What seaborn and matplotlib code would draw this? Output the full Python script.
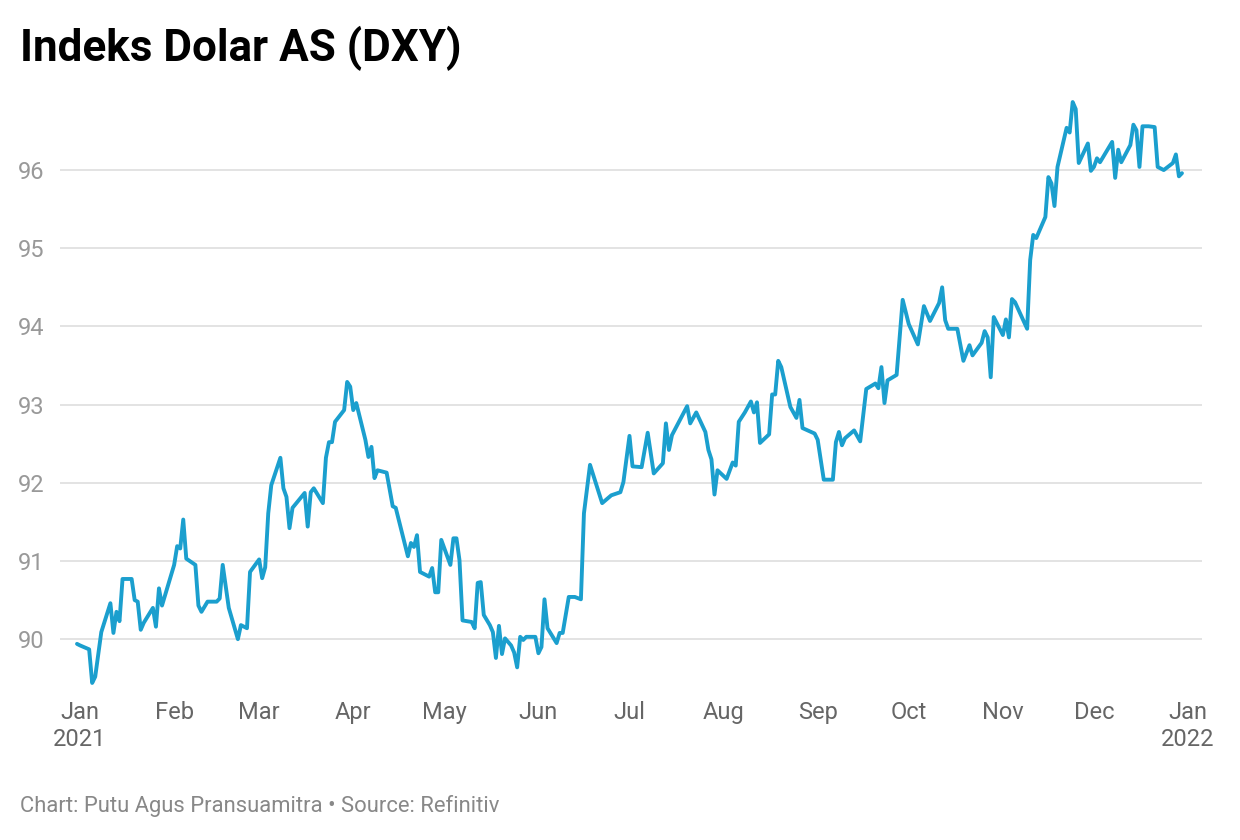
import pandas as pd
import numpy as np
import matplotlib.pyplot as plt
import matplotlib.dates as mdates
import seaborn as sns

# days counted from 2021-01-01
day_offsets = [
    -1, 0, 3, 4, 5, 7, 10, 11, 12, 13, 14, 17, 18, 19, 20, 21, 24, 25, 26, 27,
    31, 32, 33, 34, 35, 38, 39, 40, 42, 45, 46, 47, 48, 49, 52, 53, 55, 56,
    59, 60, 61, 62, 63, 66, 67, 68, 69, 70, 74, 75, 76, 77, 80, 81, 82, 83, 84, 87, 88, 89,
    90, 91, 94, 95, 96, 97, 98, 101, 103, 104, 108, 109, 110, 111, 112, 115, 116, 117, 118, 119,
    122, 123, 124, 125, 126, 129, 130, 131, 132, 133, 135, 136, 137, 138, 139, 140, 142, 143,
    144, 145, 146, 147, 150,
    151, 152, 153, 154, 157, 158, 159, 161, 163, 165, 166, 168, 172, 175, 178, 179,
    181, 182, 185, 187, 189, 192, 193, 194, 195, 200, 201, 203, 206, 207, 208, 209, 210,
    213, 215, 216, 217, 219, 221, 222, 223, 224, 227, 228, 229, 230, 231, 234, 236, 237, 238, 242,
    243, 245, 248, 249, 250, 251, 252, 255, 257, 259, 262, 263, 264, 265, 266, 269, 271,
    273, 276, 278, 280, 283, 284, 285, 286, 289, 291, 293, 294, 297, 298, 299, 300, 301,
    304, 305, 306, 307, 308, 312, 313, 314, 315, 318, 319, 320, 321, 322, 325, 326, 327, 328, 329,
    332, 333, 334, 335, 336, 340, 341, 342, 343, 346, 347, 348, 349, 350, 352, 354, 355, 357,
    360, 361, 362, 363,
]
dxy = [
    89.94, 89.92, 89.87, 89.44, 89.52, 90.09, 90.46, 90.08, 90.35, 90.23, 90.77, 90.77, 90.50, 90.48, 90.12, 90.21, 90.40, 90.16, 90.65, 90.43,
    90.95, 91.19, 91.16, 91.53, 91.03, 90.95, 90.43, 90.35, 90.48, 90.48, 90.52, 90.95, 90.67, 90.40, 90.00, 90.18, 90.14, 90.86,
    91.02, 90.78, 90.92, 91.61, 91.97, 92.32, 91.93, 91.82, 91.42, 91.68, 91.87, 91.44, 91.88, 91.93, 91.74, 92.32, 92.52, 92.52, 92.78, 92.93, 93.29, 93.23,
    92.93, 93.02, 92.55, 92.33, 92.46, 92.06, 92.16, 92.13, 91.70, 91.68, 91.06, 91.23, 91.18, 91.33, 90.86, 90.80, 90.91, 90.60, 90.60, 91.27,
    90.95, 91.29, 91.29, 91.01, 90.24, 90.22, 90.14, 90.72, 90.73, 90.31, 90.18, 90.09, 89.76, 90.17, 89.81, 90.01, 89.92, 89.83,
    89.64, 90.03, 89.99, 90.03, 90.03,
    89.82, 89.90, 90.51, 90.14, 89.95, 90.08, 90.08, 90.54, 90.54, 90.51, 91.61, 92.23, 91.74, 91.84, 91.88, 92.01,
    92.60, 92.21, 92.20, 92.64, 92.12, 92.25, 92.76, 92.42, 92.61, 92.98, 92.76, 92.90, 92.65, 92.42, 92.30, 91.85, 92.16,
    92.05, 92.26, 92.22, 92.78, 92.90, 93.04, 92.90, 93.03, 92.51, 92.62, 93.13, 93.13, 93.56, 93.48, 92.97, 92.83, 93.06, 92.70, 92.63,
    92.55, 92.04, 92.04, 92.52, 92.65, 92.48, 92.57, 92.67, 92.53, 93.20, 93.27, 93.21, 93.48, 93.02, 93.31, 93.38, 94.34,
    94.03, 93.77, 94.26, 94.07, 94.30, 94.50, 94.08, 93.97, 93.97, 93.56, 93.76, 93.63, 93.79, 93.94, 93.86, 93.35, 94.12,
    93.89, 94.09, 93.86, 94.35, 94.31, 93.97, 94.85, 95.17, 95.13, 95.40, 95.91, 95.83, 95.54, 96.04, 96.54, 96.48, 96.87, 96.78, 96.09,
    96.34, 95.99, 96.04, 96.15, 96.10, 96.36, 95.90, 96.26, 96.10, 96.32, 96.58, 96.51, 96.04, 96.56, 96.56, 96.55, 96.04, 96.00,
    96.09, 96.20, 95.92, 95.96,
]
y_ticks = [90, 91, 92, 93, 94, 95, 96]

df = pd.DataFrame({
    'tanggal': pd.Timestamp('2021-01-01') + pd.to_timedelta(day_offsets, unit='D'),
    'dxy': dxy,
})

sns.set_style('white')
plt.rcParams['font.family'] = ['Roboto', 'DejaVu Sans']

fig = plt.figure(figsize=(12.4, 8.4), dpi=100)
ax = fig.add_axes([60 / 1240, 1 - 690 / 840, 1142 / 1240, 595 / 840])

sns.lineplot(data=df, x='tanggal', y='dxy', ax=ax, color='#1b9fce', linewidth=2.8)

ax.set_ylim(89.35, 96.96)
ax.set_xlim(pd.Timestamp('2021-01-01') - pd.Timedelta(days=6.6),
            pd.Timestamp('2021-01-01') + pd.Timedelta(days=369.6))
ax.set_yticks(y_ticks)
ax.yaxis.grid(True, color='#e3e3e3', linewidth=1.4)
ax.xaxis.grid(False)
for s in ax.spines.values():
    s.set_visible(False)

ax.xaxis.set_major_locator(mdates.MonthLocator())
def fmt(x, pos=None):
    d = mdates.num2date(x)
    return d.strftime('%b\n%Y') if d.month == 1 else d.strftime('%b')
ax.xaxis.set_major_formatter(plt.FuncFormatter(fmt))
ax.tick_params(axis='x', length=0, pad=8, labelsize=17, labelcolor='#666666')
ax.tick_params(axis='y', length=0, pad=11, labelsize=17, labelcolor='#999999')
ax.set_xlabel('')
ax.set_ylabel('')

fig.text(20 / 1240, 1 - 48 / 840, 'Indeks Dolar AS (DXY)', fontsize=31.7, fontweight='bold',
         color='black', va='center', ha='left')
fig.text(20 / 1240, 1 - 806 / 840, 'Chart: Putu Agus Pransuamitra \u2022 Source: Refinitiv',
         fontsize=15.8, color='#888888', va='center', ha='left')

fig.savefig('out.png', dpi=100)
